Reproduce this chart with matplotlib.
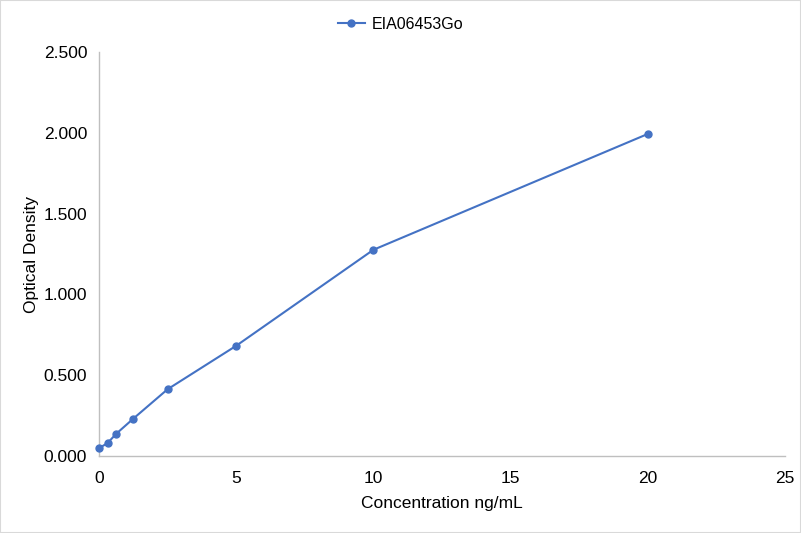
import matplotlib
matplotlib.use('Agg')
import matplotlib.pyplot as plt
from matplotlib.patches import Rectangle

plt.rcParams['font.family'] = ['Liberation Sans', 'DejaVu Sans']

concentration = [0, 0.3125, 0.625, 1.25, 2.5, 5, 10, 20]
optical_density = [0.048, 0.080, 0.137, 0.231, 0.413, 0.682, 1.276, 1.993]
series_name = 'EIA06453Go'

fig = plt.figure(figsize=(8.01, 5.33), dpi=100)
ax = fig.add_axes([0.1236, 0.1445, 0.8564, 0.7579])

ax.plot(concentration, optical_density, color='#4472C4', linewidth=1.5,
        marker='o', markersize=5, label=series_name, clip_on=False, zorder=3)

ax.set_xlim(0, 25)
ax.set_ylim(0, 2.5)
ax.set_xticks([0, 5, 10, 15, 20, 25])
ax.set_yticks([0, 0.5, 1.0, 1.5, 2.0, 2.5])
ax.set_yticklabels(['%.3f' % v for v in [0, 0.5, 1.0, 1.5, 2.0, 2.5]])
ax.tick_params(length=0, labelsize=12.5, colors='#000000')
ax.tick_params(axis='x', pad=11)
ax.tick_params(axis='y', pad=8.5)

for side in ['top', 'right']:
    ax.spines[side].set_visible(False)
for side in ['left', 'bottom']:
    ax.spines[side].set_color('#BFBFBF')
    ax.spines[side].set_linewidth(1)

ax.set_xlabel('Concentration ng/mL', fontsize=12.5, labelpad=7)
ax.set_ylabel('Optical Density', fontsize=12.5, labelpad=3.5)

fig.legend(loc='upper center', bbox_to_anchor=(0.5, 0.995), frameon=False,
           fontsize=11.5, handlelength=1.7, handletextpad=0.45)

fig.patches.append(Rectangle((0, 0), 1, 1, transform=fig.transFigure,
                             fill=False, edgecolor='#D9D9D9', linewidth=1.5))

fig.savefig('out.png', dpi=100)
